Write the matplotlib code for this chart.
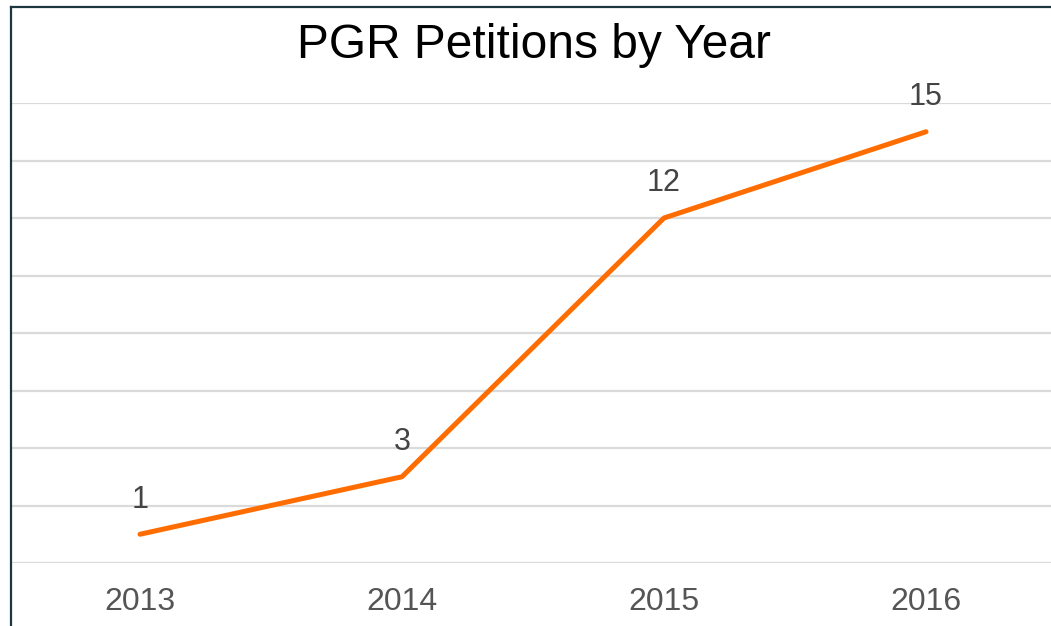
import matplotlib.pyplot as plt
from matplotlib.lines import Line2D

years = ['2013', '2014', '2015', '2016']
petitions = [1, 3, 12, 15]

plt.rcParams['font.family'] = ['Liberation Sans', 'DejaVu Sans']

fig = plt.figure(figsize=(10.51, 6.26), dpi=100)
ax = fig.add_axes([12/1051, 63/626, 1039/1051, 460/626])

x = list(range(len(years)))
ax.plot(x, petitions, color='#ff6d01', lw=3.6, solid_capstyle='round', zorder=3)
for xi, v in zip(x, petitions):
    ax.annotate(str(v), (xi, v), xytext=(0, 25), textcoords='offset points',
                ha='center', va='center', fontsize=22, color='#444444')

ax.set_xlim(-128/262, 911/262)
ax.set_ylim(0, 16)
ax.set_xticks(x)
ax.set_xticklabels(years, fontsize=23, color='#555555')
ax.set_yticks(range(0, 17, 2))
ax.tick_params(axis='y', left=False, labelleft=False)
ax.tick_params(axis='x', length=0, pad=17)
ax.grid(axis='y', color='#dadada', lw=1.6)
ax.set_axisbelow(True)
for s in ax.spines.values():
    s.set_visible(False)

fig.text(534/1051, 1 - 45/626, 'PGR Petitions by Year', ha='center', va='center',
         fontsize=34.5, color='#000000')

# thin dark frame on the left and top edge
fig.add_artist(Line2D([11/1051, 11/1051], [0, 1 - 7/626], color='#1c3640', lw=1.6))
fig.add_artist(Line2D([11/1051, 1], [1 - 7/626, 1 - 7/626], color='#1c3640', lw=1.6))

fig.savefig('out.png', dpi=100)
